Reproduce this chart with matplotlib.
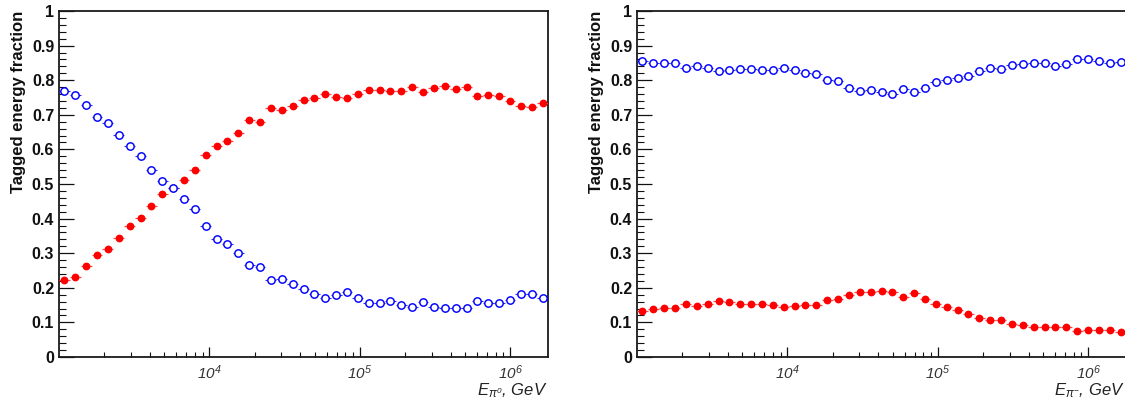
import numpy as np
import matplotlib
matplotlib.use("Agg")
import matplotlib.pyplot as plt
from matplotlib.ticker import FixedLocator, FixedFormatter, MultipleLocator, LogLocator, NullFormatter

plt.rcParams["font.family"] = ["Liberation Sans", "DejaVu Sans"]
plt.rcParams["mathtext.fontset"] = "custom"
plt.rcParams["mathtext.rm"] = "Liberation Sans:italic"
plt.rcParams["mathtext.it"] = "Liberation Sans:italic"
plt.rcParams["mathtext.bf"] = "Liberation Sans:bold"

# 45 logarithmic energy bins from 10^3 to 10^6.25 GeV
e_edges = np.logspace(3.0, 6.25, 46)
e_centers = np.sqrt(e_edges[:-1] * e_edges[1:])

# pi0 primaries
pi0_filled = [0.223, 0.232, 0.263, 0.296, 0.312, 0.344, 0.380, 0.401, 0.437, 0.470,
              0.488, 0.511, 0.541, 0.584, 0.609, 0.625, 0.648, 0.685, 0.680, 0.721,
              0.713, 0.726, 0.743, 0.749, 0.761, 0.752, 0.749, 0.761, 0.773, 0.773,
              0.768, 0.770, 0.780, 0.765, 0.777, 0.783, 0.774, 0.779, 0.753, 0.758,
              0.753, 0.741, 0.726, 0.723, 0.735]
pi0_open = [0.770, 0.756, 0.729, 0.693, 0.676, 0.642, 0.610, 0.581, 0.541, 0.508,
            0.488, 0.456, 0.427, 0.378, 0.342, 0.327, 0.301, 0.265, 0.259, 0.223,
            0.225, 0.212, 0.197, 0.183, 0.170, 0.178, 0.189, 0.170, 0.156, 0.156,
            0.163, 0.151, 0.145, 0.160, 0.145, 0.142, 0.142, 0.142, 0.163, 0.156,
            0.156, 0.165, 0.183, 0.182, 0.171]

# pi- primaries
pim_filled = [0.133, 0.139, 0.143, 0.141, 0.153, 0.147, 0.153, 0.163, 0.158, 0.154,
              0.152, 0.152, 0.149, 0.145, 0.146, 0.149, 0.150, 0.164, 0.167, 0.180,
              0.188, 0.188, 0.192, 0.188, 0.174, 0.186, 0.169, 0.152, 0.145, 0.136,
              0.125, 0.114, 0.106, 0.106, 0.094, 0.092, 0.087, 0.087, 0.087, 0.086,
              0.075, 0.077, 0.078, 0.078, 0.073]
pim_open = [0.856, 0.851, 0.849, 0.849, 0.835, 0.841, 0.834, 0.826, 0.829, 0.832,
            0.832, 0.829, 0.829, 0.834, 0.829, 0.822, 0.817, 0.800, 0.797, 0.778,
            0.768, 0.772, 0.766, 0.760, 0.774, 0.765, 0.777, 0.794, 0.800, 0.806,
            0.813, 0.827, 0.836, 0.832, 0.843, 0.847, 0.851, 0.850, 0.840, 0.846,
            0.860, 0.860, 0.856, 0.851, 0.853]

y_ticks = [0.0, 0.1, 0.2, 0.3, 0.4, 0.5, 0.6, 0.7, 0.8, 0.9, 1.0]
y_tick_labels = ["0", "0.1", "0.2", "0.3", "0.4", "0.5", "0.6", "0.7", "0.8", "0.9", "1"]
x_ticks = [1e4, 1e5, 1e6]
x_tick_labels = [r"$10^{4}$", r"$10^{5}$", r"$10^{6}$"]

W, H = 1125, 401
fig = plt.figure(figsize=(W / 100, H / 100), dpi=100)
fig.patch.set_facecolor("white")


def panel(left_px, filled, opened, xlabel):
    ax = fig.add_axes([left_px / W, (H - 357) / H, 489 / W, 346 / H])
    xerr = [e_centers - e_edges[:-1], e_edges[1:] - e_centers]
    ax.errorbar(e_centers, filled, xerr=xerr, fmt="o", color="red", ecolor="#ff4a4a",
                ms=4.6, mfc="red", mec="red", elinewidth=0.9, capsize=0, zorder=3)
    ax.errorbar(e_centers, opened, xerr=xerr, fmt="o", color="blue", ecolor="#2a2aff",
                ms=5.3, mfc="white", mec="blue", mew=1.05, elinewidth=0.8, capsize=0, zorder=3)
    ax.set_xscale("log")
    ax.set_xlim(e_edges[0], e_edges[-1])
    ax.set_ylim(0, 1)

    ax.yaxis.set_major_locator(FixedLocator(y_ticks))
    ax.yaxis.set_major_formatter(FixedFormatter(y_tick_labels))
    ax.yaxis.set_minor_locator(MultipleLocator(0.02))
    ax.xaxis.set_major_locator(FixedLocator(x_ticks))
    ax.xaxis.set_major_formatter(FixedFormatter(x_tick_labels))
    ax.xaxis.set_minor_locator(LogLocator(base=10, subs=np.arange(2, 10), numticks=20))
    ax.xaxis.set_minor_formatter(NullFormatter())

    ax.tick_params(which="both", direction="in", top=False, right=False, color="#111")
    ax.tick_params(axis="y", which="major", length=10.8, width=0.9, pad=3.5)
    ax.tick_params(axis="y", which="minor", length=5.0, width=0.8)
    ax.tick_params(axis="x", which="major", length=7.0, width=0.9, pad=4.5)
    ax.tick_params(axis="x", which="minor", length=3.5, width=0.8)
    for lab in ax.get_yticklabels():
        lab.set_fontweight("bold")
        lab.set_fontsize(11.5)
        lab.set_color("#111")
    for lab in ax.get_xticklabels():
        lab.set_fontsize(11)
        lab.set_color("#333")

    for s in ax.spines.values():
        s.set_linewidth(1.3)
        s.set_color("#1a1a1a")

    ax.set_ylabel("Tagged energy fraction", fontweight="bold", fontsize=12, loc="top",
                  color="#111")
    ax.yaxis.set_label_coords(-0.068, 1.0)
    ax.set_xlabel(xlabel, fontsize=12, fontstyle="italic", loc="right", color="#222")
    ax.xaxis.set_label_coords(0.998, -0.071)
    return ax


panel(59, pi0_filled, pi0_open, r"$E_{\pi^{0}}$, GeV")
panel(637, pim_filled, pim_open, r"$E_{\pi^{-}}$, GeV")

fig.savefig("out.png", dpi=100, facecolor="white")
